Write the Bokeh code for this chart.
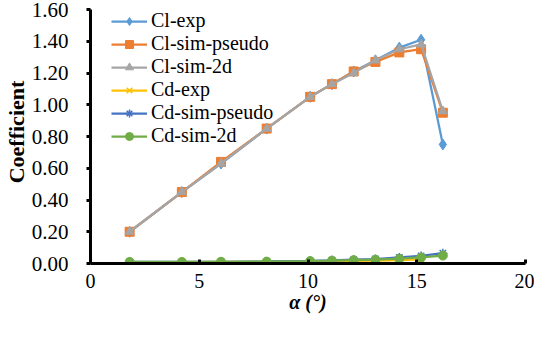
from bokeh.plotting import figure
from bokeh.models import Range1d, SingleIntervalTicker, PrintfTickFormatter
from bokeh.embed import file_html
from bokeh.resources import INLINE

# ---- data ----
alpha = [1.8, 4.2, 6.0, 8.1, 10.1, 11.1, 12.1, 13.1, 14.2, 15.2, 16.2]
cl_exp = [0.20, 0.45, 0.63, 0.85, 1.05, 1.13, 1.21, 1.28, 1.36, 1.41, 0.75]
cl_sim_pseudo = [0.20, 0.45, 0.64, 0.85, 1.05, 1.13, 1.21, 1.27, 1.33, 1.35, 0.95]
cl_sim_2d = [0.20, 0.45, 0.63, 0.85, 1.05, 1.13, 1.20, 1.28, 1.35, 1.38, 0.96]
alpha_cd_exp = [1.8, 4.2, 6.0, 8.1, 10.1, 11.1, 12.1, 13.1, 14.2, 15.2]
cd_exp = [0.009, 0.009, 0.010, 0.011, 0.012, 0.014, 0.016, 0.018, 0.021, 0.026]
cd_sim_pseudo = [0.010, 0.010, 0.011, 0.013, 0.017, 0.020, 0.024, 0.028, 0.038, 0.048, 0.065]
cd_sim_2d = [0.010, 0.010, 0.011, 0.012, 0.015, 0.018, 0.021, 0.024, 0.030, 0.038, 0.050]
x_ticks_interval = 5
y_ticks_interval = 0.2

FONT = "Liberation Serif"

p = figure(width=534, height=326, output_backend="svg", toolbar_location=None,
           x_range=Range1d(0, 20), y_range=Range1d(0, 1.657),
           min_border_left=83, min_border_right=9, min_border_top=0,
           min_border_bottom=63, outline_line_color=None)
p.xgrid.visible = False
p.ygrid.visible = False

series = [
    (alpha, cl_exp, "Cl-exp", "#5B9BD5", "diamond", 11, 1),
    (alpha, cl_sim_pseudo, "Cl-sim-pseudo", "#ED7D31", "square", 9, 1),
    (alpha, cl_sim_2d, "Cl-sim-2d", "#A5A5A5", "triangle", 9, 1),
    (alpha_cd_exp, cd_exp, "Cd-exp", "#FFC000", "x", 9, 1.5),
    (alpha, cd_sim_pseudo, "Cd-sim-pseudo", "#4472C4", "asterisk", 9, 1.5),
    (alpha, cd_sim_2d, "Cd-sim-2d", "#70AD47", "circle", 9, 1),
]
for xs, ys, name, col, marker, size, lw in series:
    p.line(xs, ys, line_color=col, line_width=2.25, legend_label=name)
    p.scatter(xs, ys, marker=marker, size=size, fill_color=col,
              line_color=col, line_width=lw, legend_label=name)

xa = p.xaxis[0]
ya = p.yaxis[0]
for ax in (xa, ya):
    ax.axis_line_width = 3
    ax.axis_line_color = "black"
    ax.major_tick_line_width = 3
    ax.major_tick_line_color = "black"
    ax.minor_tick_line_color = None
    ax.major_label_text_font = FONT
    ax.major_label_text_font_size = "21px"
    ax.major_label_text_color = "black"
    ax.axis_label_text_font = FONT
    ax.axis_label_text_font_size = "22px"
    ax.axis_label_text_color = "black"

xa.ticker = SingleIntervalTicker(interval=x_ticks_interval)
xa.bounds = (0, 20)
xa.major_tick_in = 4
xa.major_tick_out = 0
xa.major_label_standoff = 6
xa.major_label_text_font_size = "20px"
xa.axis_label = "α (°)"
xa.axis_label_text_font_style = "bold italic"
xa.axis_label_text_font_size = "20px"
xa.axis_label_standoff = 0

ya.ticker = SingleIntervalTicker(interval=y_ticks_interval)
ya.formatter = PrintfTickFormatter(format="%.2f")
ya.bounds = (0, 1.6)
ya.major_tick_in = 0
ya.major_tick_out = 4
ya.major_label_standoff = 18
ya.axis_label = "Coefficient"
ya.axis_label_text_font_style = "bold"
ya.axis_label_standoff = 0

lg = p.legend[0]
lg.location = (21, 116)
lg.margin = 0
lg.padding = 0
lg.border_line_color = None
lg.background_fill_alpha = 0
lg.label_text_font = FONT
lg.label_text_font_size = "20px"
lg.label_text_color = "black"
lg.glyph_width = 36
lg.glyph_height = 20
lg.label_height = 20
lg.spacing = 0
lg.label_standoff = 4

open("out.html", "w").write(file_html(p, INLINE))
